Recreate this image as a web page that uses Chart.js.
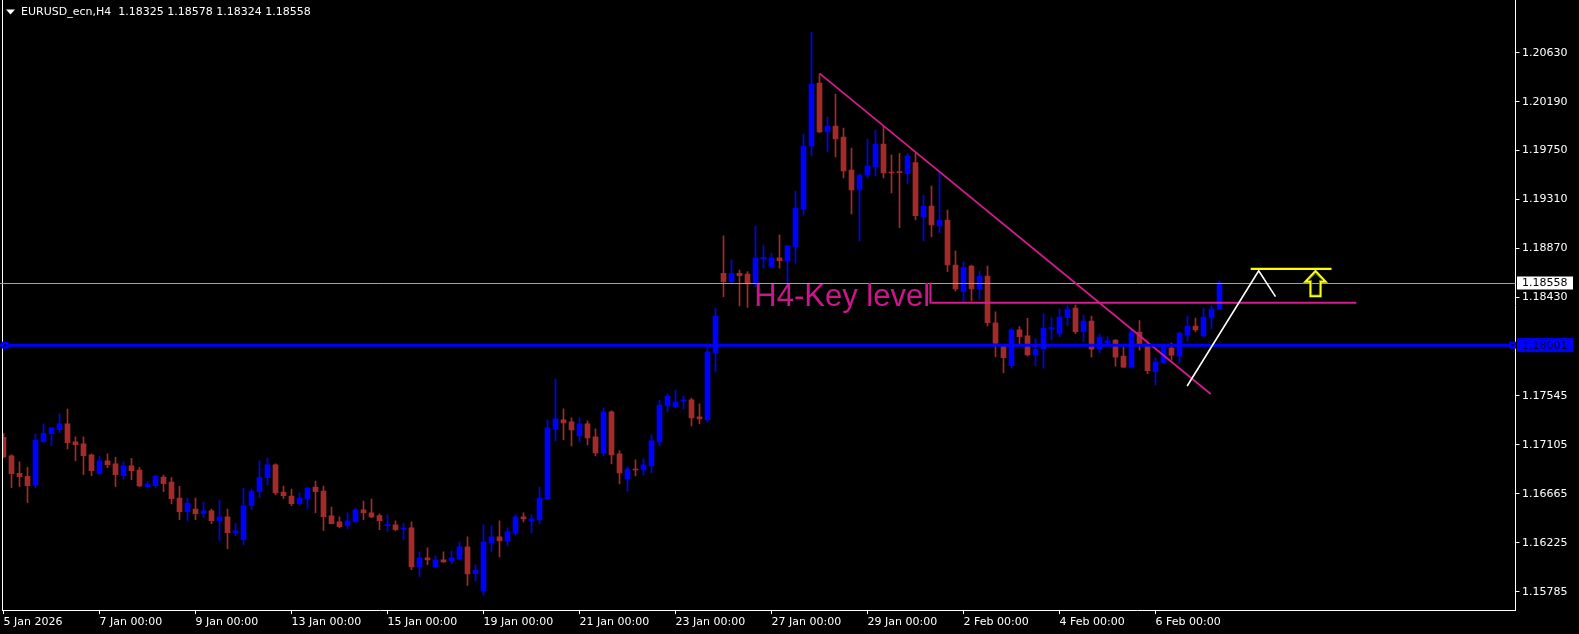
<!DOCTYPE html>
<html><head><meta charset="utf-8">
<style>html,body{margin:0;padding:0;background:#000;overflow:hidden}</style>
<script src="https://cdn.jsdelivr.net/npm/chart.js@4.4.1/dist/chart.umd.min.js"></script>
</head><body>
<canvas id="c" width="1579" height="634"></canvas>
<script>
const opens = [1.17173,1.17005,1.16849,1.16822,1.16744,1.17134,1.17206,1.17242,1.17293,1.17131,
1.17113,1.17014,1.16846,1.16960,1.16933,1.16828,1.16915,1.16879,1.16729,1.16738,
1.16816,1.16771,1.16627,1.16505,1.16528,1.16487,1.16511,1.16424,1.16457,1.16316,
1.16253,1.16559,1.16684,1.16810,1.16924,1.16681,1.16645,1.16576,1.16621,1.16726,
1.16690,1.16466,1.16412,1.16379,1.16415,1.16520,1.16493,1.16469,1.16379,1.16385,
1.16346,1.16358,1.16007,1.16088,1.16007,1.16070,1.16061,1.16079,1.16187,1.15947,
1.15792,1.16223,1.16277,1.16241,1.16313,1.16457,1.16421,1.16430,1.16618,1.17248,
1.17329,1.17311,1.17185,1.17293,1.17176,1.17032,1.17401,1.17023,1.16798,1.16888,
1.16879,1.16915,1.17131,1.17455,1.17446,1.17497,1.17509,1.17356,1.17329,1.17931,
1.18647,1.18572,1.18647,1.18641,1.18557,1.18776,1.18707,1.18785,1.18761,1.18887,
1.19225,1.19791,1.20358,1.19917,1.19971,1.19872,1.19576,1.19396,1.19531,1.19603,
1.19809,1.19558,1.19561,1.19543,1.19642,1.19153,1.19252,1.19073,1.19126,1.18722,
1.18482,1.18713,1.18506,1.18623,1.18201,1.17988,1.17817,1.18138,1.18084,1.17913,
1.17964,1.18150,1.18101,1.18248,1.18335,1.18122,1.18218,1.17966,1.18023,1.18047,
1.17903,1.17804,1.18119,1.18011,1.17763,1.17844,1.17975,1.17903,1.18092,1.18173,
1.18083,1.18245,1.18325];
const highs = [1.17209,1.17014,1.16951,1.16903,1.17203,1.17293,1.17260,1.17385,1.17427,1.17176,
1.17176,1.17023,1.17002,1.17023,1.16993,1.16951,1.16984,1.16903,1.16777,1.16834,
1.16834,1.16813,1.16732,1.16627,1.16627,1.16591,1.16528,1.16609,1.16528,1.16400,
1.16717,1.16708,1.16960,1.16987,1.16933,1.16735,1.16708,1.16672,1.16726,1.16780,
1.16735,1.16546,1.16457,1.16493,1.16537,1.16600,1.16618,1.16484,1.16475,1.16421,
1.16400,1.16412,1.16142,1.16178,1.16106,1.16142,1.16151,1.16232,1.16277,1.16025,
1.16385,1.16379,1.16421,1.16358,1.16475,1.16493,1.16475,1.16726,1.17329,1.17697,
1.17428,1.17347,1.17347,1.17320,1.17248,1.17437,1.17410,1.17050,1.16906,1.16969,
1.16978,1.17194,1.17508,1.17562,1.17598,1.17544,1.17526,1.17473,1.17985,1.18335,
1.18983,1.18767,1.18677,1.18662,1.19072,1.18899,1.18827,1.18992,1.18896,1.19387,
1.19899,1.20816,1.20439,1.20052,1.20259,1.19953,1.19773,1.19540,1.19854,1.19935,
1.19971,1.19711,1.19726,1.19726,1.19726,1.19351,1.19432,1.19561,1.19216,1.18848,
1.18752,1.18722,1.18668,1.18713,1.18300,1.18003,1.18159,1.18168,1.18243,1.18063,
1.18288,1.18252,1.18326,1.18362,1.18362,1.18272,1.18263,1.18101,1.18077,1.18050,
1.17987,1.18137,1.18221,1.18015,1.17885,1.18011,1.18020,1.18119,1.18263,1.18245,
1.18335,1.18362,1.18578];
const lows = [1.16990,1.16720,1.16729,1.16586,1.16720,1.17125,1.17098,1.17215,1.17068,1.16963,
1.16837,1.16828,1.16837,1.16900,1.16729,1.16798,1.16792,1.16729,1.16720,1.16723,
1.16684,1.16573,1.16433,1.16424,1.16433,1.16451,1.16397,1.16244,1.16172,1.16289,
1.16208,1.16523,1.16630,1.16744,1.16657,1.16621,1.16559,1.16559,1.16531,1.16496,
1.16334,1.16394,1.16361,1.16352,1.16406,1.16433,1.16451,1.16343,1.16325,1.16334,
1.16253,1.15983,1.15920,1.16028,1.16000,1.16048,1.16037,1.16070,1.15840,1.15881,
1.15756,1.16142,1.16097,1.16196,1.16295,1.16412,1.16313,1.16394,1.16612,1.17140,
1.17149,1.17095,1.17131,1.17104,1.17005,1.17005,1.16933,1.16753,1.16690,1.16825,
1.16834,1.16852,1.17095,1.17401,1.17440,1.17428,1.17275,1.17293,1.17311,1.17760,
1.18437,1.18551,1.18353,1.18341,1.18527,1.18692,1.18700,1.18692,1.18542,1.18737,
1.19171,1.19702,1.19910,1.19738,1.19693,1.19504,1.19180,1.18938,1.19504,1.19522,
1.19504,1.19369,1.19057,1.19456,1.19126,1.18941,1.18977,1.19013,1.18662,1.18488,
1.18392,1.18398,1.18413,1.18174,1.17898,1.17754,1.17793,1.18003,1.17905,1.17817,
1.17793,1.18048,1.18077,1.18176,1.18104,1.18032,1.17894,1.17933,1.17993,1.17813,
1.17800,1.17795,1.17957,1.17745,1.17643,1.17838,1.17867,1.17840,1.18038,1.18119,
1.18080,1.18146,1.18324];
const closes = [1.16996,1.16846,1.16819,1.16738,1.17146,1.17209,1.17257,1.17293,1.17125,1.17107,
1.17008,1.16873,1.16960,1.16927,1.16837,1.16915,1.16873,1.16735,1.16753,1.16825,
1.16756,1.16621,1.16505,1.16582,1.16487,1.16511,1.16424,1.16457,1.16316,1.16331,
1.16556,1.16690,1.16813,1.16924,1.16672,1.16648,1.16576,1.16627,1.16717,1.16684,
1.16460,1.16397,1.16370,1.16421,1.16520,1.16496,1.16457,1.16424,1.16385,1.16343,
1.16355,1.16007,1.16088,1.16070,1.16070,1.16052,1.16088,1.16187,1.15944,1.15980,
1.16232,1.16277,1.16241,1.16322,1.16457,1.16439,1.16439,1.16627,1.17257,1.17338,
1.17302,1.17239,1.17293,1.17167,1.17032,1.17401,1.17014,1.16852,1.16888,1.16879,
1.16924,1.17140,1.17463,1.17544,1.17491,1.17509,1.17347,1.17338,1.17940,1.18263,
1.18572,1.18647,1.18626,1.18551,1.18785,1.18791,1.18785,1.18761,1.18893,1.19234,
1.19791,1.20349,1.19917,1.19971,1.19854,1.19567,1.19396,1.19531,1.19612,1.19809,
1.19549,1.19549,1.19552,1.19702,1.19165,1.19252,1.19082,1.19126,1.18722,1.18506,
1.18701,1.18506,1.18623,1.18204,1.18018,1.17889,1.18138,1.18078,1.17913,1.17964,
1.18153,1.18159,1.18254,1.18326,1.18122,1.18218,1.17966,1.18074,1.18041,1.17894,
1.17804,1.18119,1.18002,1.17772,1.17850,1.17993,1.17912,1.18110,1.18173,1.18137,
1.18254,1.18326,1.18558];

const xTickIdx = [0,12,24,36,48,60,72,84,96,108,120,132,144];
const xTickLabels = ['5 Jan 2026','7 Jan 00:00','9 Jan 00:00','13 Jan 00:00','15 Jan 00:00','19 Jan 00:00',
  '21 Jan 00:00','23 Jan 00:00','27 Jan 00:00','29 Jan 00:00','2 Feb 00:00','4 Feb 00:00','6 Feb 00:00'];
const yTicks = [1.15785,1.16225,1.16665,1.17105,1.17545,1.18430,1.18870,1.19310,1.19750,1.20190,1.20630];

const titleText = 'EURUSD_ecn,H4  1.18325 1.18578 1.18324 1.18558';
const bidPrice = 1.18558;
const levelPrice = 1.18001;
const keyLevel = {price: 1.18383, from: 116, to: 169.1, label: 'H4-Key level', labelAt: [93.85, 1.18356]};
const trendLine = [[102.0, 1.20445], [150.9, 1.17562]];
const projection = [[147.96, 1.17634], [156.9, 1.18670], [159.0, 1.18437]];
const targetLine = [[155.9, 1.18686], [166.0, 1.18686]];
const arrowTip = [164.0, 1.18667];

const BULL = '#0000ff', BEAR = '#a52a2a';
const colors = opens.map((o, i) => closes[i] >= o ? BULL : BEAR);
const FONT = '"DejaVu Sans", Tahoma, sans-serif';

const overlay = {
  id: 'overlay',
  afterDatasetsDraw(chart) {
    const {ctx, chartArea: a, scales: {x, y}} = chart;
    const X = v => x.getPixelForValue(v), Y = v => y.getPixelForValue(v);
    ctx.save();
    // left frame
    ctx.strokeStyle = '#ffffff'; ctx.lineWidth = 1;
    ctx.beginPath(); ctx.moveTo(2.5, 0); ctx.lineTo(2.5, a.bottom); ctx.stroke();
    // bid line
    const yb = Math.round(Y(bidPrice)) + 0.5;
    ctx.strokeStyle = '#a0a0a0'; ctx.lineWidth = 1;
    ctx.beginPath(); ctx.moveTo(0, yb); ctx.lineTo(a.right, yb); ctx.stroke();
    // trend line
    ctx.strokeStyle = '#d81b8f'; ctx.lineWidth = 1.7;
    ctx.beginPath(); ctx.moveTo(X(trendLine[0][0]), Y(trendLine[0][1])); ctx.lineTo(X(trendLine[1][0]), Y(trendLine[1][1])); ctx.stroke();
    // key level line
    const yk = Y(keyLevel.price);
    ctx.lineWidth = 2;
    ctx.beginPath(); ctx.moveTo(X(keyLevel.from), yk); ctx.lineTo(X(keyLevel.to), yk); ctx.stroke();
    ctx.beginPath(); ctx.moveTo(X(keyLevel.from) - 1, yk - 20); ctx.lineTo(X(keyLevel.from) - 1, yk + 1); ctx.stroke();
    // key level text
    ctx.fillStyle = '#cc168c';
    ctx.font = '31px "Liberation Sans", Arial, sans-serif';
    ctx.textBaseline = 'alphabetic'; ctx.textAlign = 'left';
    ctx.fillText(keyLevel.label, X(keyLevel.labelAt[0]), Y(keyLevel.labelAt[1]));
    // blue level line
    const yl = Y(levelPrice);
    ctx.strokeStyle = '#0000ff'; ctx.lineWidth = 3;
    ctx.beginPath(); ctx.moveTo(0, yl); ctx.lineTo(a.right, yl); ctx.stroke();
    [5, a.right - 3].forEach(px => {
      ctx.fillStyle = '#0000ff'; ctx.fillRect(px - 3.5, yl - 3.5, 7, 7);
      ctx.fillStyle = '#000'; ctx.fillRect(px - 1, yl - 1, 2, 2);
    });
    // projection (white)
    ctx.strokeStyle = '#ffffff'; ctx.lineWidth = 1.6;
    ctx.beginPath();
    projection.forEach((p, i) => { const px = X(p[0]), py = Y(p[1]); i ? ctx.lineTo(px, py) : ctx.moveTo(px, py); });
    ctx.stroke();
    // target line (yellow)
    ctx.strokeStyle = '#ffff00'; ctx.lineWidth = 2.2;
    const yt = Y(targetLine[0][1]);
    ctx.beginPath(); ctx.moveTo(X(targetLine[0][0]), yt); ctx.lineTo(X(targetLine[1][0]), yt); ctx.stroke();
    // up arrow
    const ax = X(arrowTip[0]), ay = Y(arrowTip[1]);
    const pts = [[0,0],[10,10.5],[5,10.5],[5,25],[-5,25],[-5,10.5],[-10,10.5]];
    ctx.beginPath();
    pts.forEach((p, i) => i ? ctx.lineTo(ax + p[0], ay + p[1]) : ctx.moveTo(ax + p[0], ay + p[1]));
    ctx.closePath();
    ctx.strokeStyle = '#ffff00'; ctx.lineWidth = 2.2; ctx.stroke();
    ctx.strokeStyle = '#6b8e00'; ctx.lineWidth = 0.8;
    const inner = [[0,2.6],[7.2,9.3],[3.9,9.3],[3.9,23.9],[-3.9,23.9],[-3.9,9.3],[-7.2,9.3]];
    ctx.beginPath();
    inner.forEach((p, i) => i ? ctx.lineTo(ax + p[0], ay + p[1]) : ctx.moveTo(ax + p[0], ay + p[1]));
    ctx.closePath(); ctx.stroke();
    // right price labels
    ctx.font = '11px ' + FONT; ctx.textBaseline = 'middle';
    ctx.fillStyle = '#ffffff'; ctx.fillRect(a.right + 1.5, Math.round(Y(bidPrice)) - 6.5, 56, 13);
    ctx.fillStyle = '#000000'; ctx.fillText(bidPrice.toFixed(5), a.right + 6.5, Math.round(Y(bidPrice)) + 0.5);
    ctx.fillStyle = '#0000ff'; ctx.fillRect(a.right + 1.5, yl - 7, 56, 14);
    ctx.fillStyle = '#000040'; ctx.fillText(levelPrice.toFixed(5), a.right + 6.5, yl + 0.5);
    // title
    ctx.fillStyle = '#ffffff';
    ctx.beginPath(); ctx.moveTo(6, 9.5); ctx.lineTo(15, 9.5); ctx.lineTo(10.5, 14.5); ctx.closePath(); ctx.fill();
    ctx.font = '11px ' + FONT; ctx.textBaseline = 'middle';
    ctx.fillText(titleText, 21, 12.5);
    ctx.restore();
  }
};

new Chart(document.getElementById('c'), {
  type: 'bar',
  data: {
    datasets: [
      {
        label: 'body',
        data: opens.map((o, i) => ({x: i, y: [o, closes[i]]})),
        backgroundColor: colors, borderWidth: 0, borderSkipped: false,
        barThickness: 5, minBarLength: 1, grouped: false, order: 0
      },
      {
        label: 'wick',
        data: lows.map((l, i) => ({x: i, y: [l, highs[i]]})),
        backgroundColor: colors, borderWidth: 0, borderSkipped: false,
        barThickness: 1, minBarLength: 1, grouped: false, order: 1
      }
    ]
  },
  options: {
    responsive: false, animation: false, devicePixelRatio: 1,
    layout: {padding: {left: 2.5, top: 0, right: 0, bottom: 0}},
    plugins: {legend: {display: false}, tooltip: {enabled: false}},
    scales: {
      x: {
        type: 'linear', min: -0.125, max: 189, offset: false,
        grid: {display: true, drawOnChartArea: false, drawTicks: true, tickLength: 4, color: '#ffffff', offset: false},
        border: {display: true, color: '#ffffff', width: 1},
        afterBuildTicks: s => { s.ticks = xTickIdx.map(v => ({value: v})); },
        afterFit: s => { s.height = 24; s.paddingLeft = 0; s.paddingRight = 0; },
        ticks: {
          color: '#ffffff', font: {family: FONT, size: 11}, padding: 1.5,
          align: 'start', maxRotation: 0, autoSkip: false,
          callback: (v, i) => xTickLabels[i]
        }
      },
      y: {
        type: 'linear', position: 'right', min: 1.15620, max: 1.21104,
        grid: {display: true, drawOnChartArea: false, drawTicks: true, tickLength: 4, color: '#ffffff'},
        border: {display: true, color: '#ffffff', width: 1},
        afterBuildTicks: s => { s.ticks = yTicks.map(v => ({value: v})); },
        afterFit: s => { s.width = 63.5; s.paddingTop = 0; s.paddingBottom = 0; },
        ticks: {
          color: '#ffffff', font: {family: FONT, size: 11}, padding: 2.5,
          callback: v => Number(v).toFixed(5)
        }
      }
    }
  },
  plugins: [overlay]
});
</script>
</body></html>
